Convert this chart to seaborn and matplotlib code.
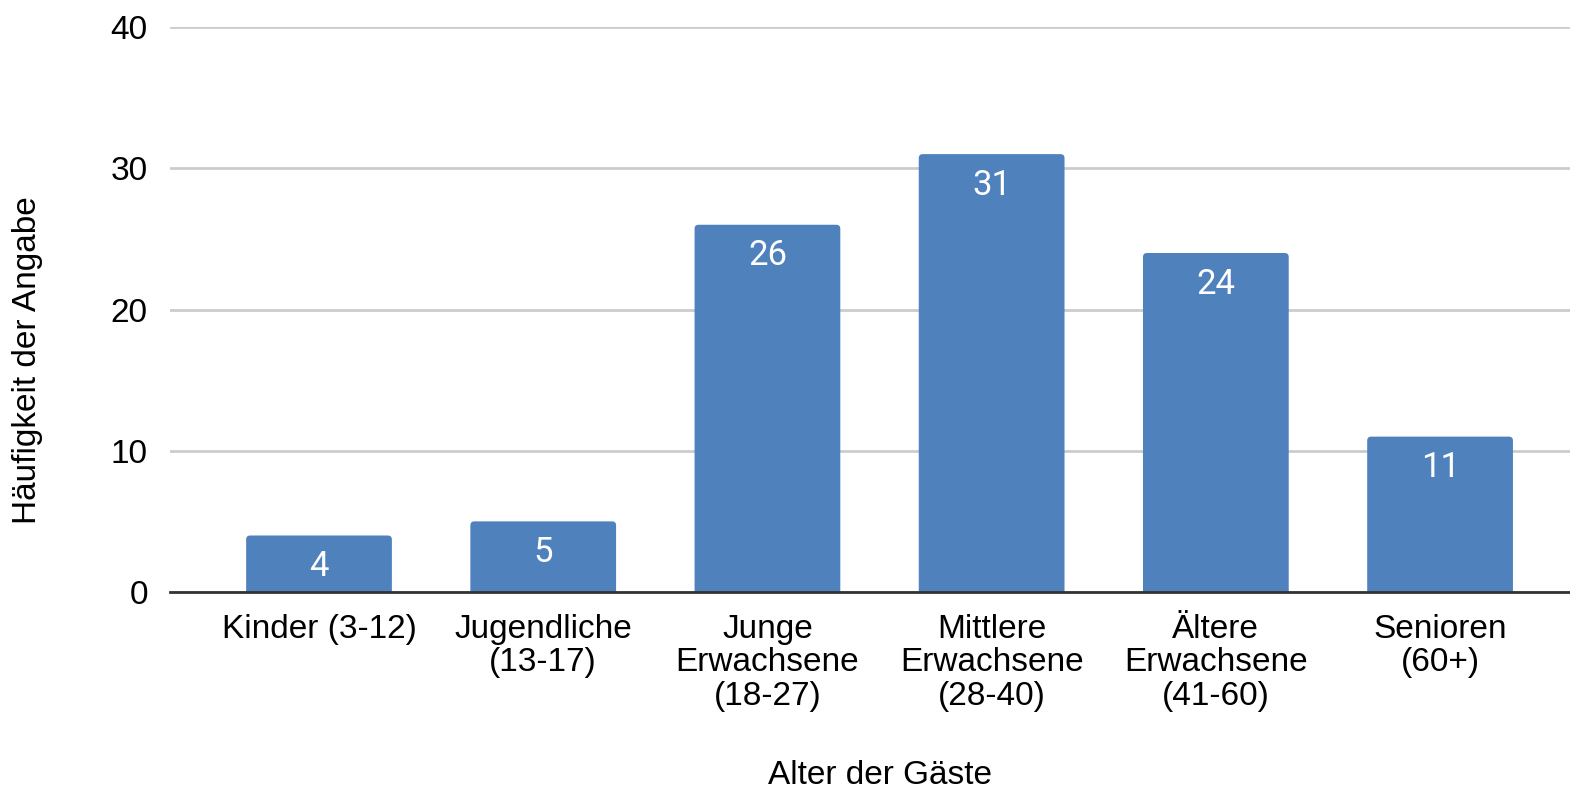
import matplotlib
matplotlib.use("Agg")
import matplotlib.pyplot as plt
from matplotlib.patches import FancyBboxPatch
import seaborn as sns
import pandas as pd

categories = [
    "Kinder (3-12)",
    "Jugendliche\n(13-17)",
    "Junge\nErwachsene\n(18-27)",
    "Mittlere\nErwachsene\n(28-40)",
    "Ältere\nErwachsene\n(41-60)",
    "Senioren\n(60+)",
]
counts = [4, 5, 26, 31, 24, 11]
y_ticks = [0, 10, 20, 30, 40]

bar_color = "#4f81bd"

sns.set_theme(style="white")
plt.rcParams["font.family"] = ["Liberation Sans", "DejaVu Sans"]
plt.rcParams["text.color"] = "black"
plt.rcParams["axes.labelcolor"] = "black"

df = pd.DataFrame({"cat": categories, "n": counts})

fig = plt.figure(figsize=(15.7, 7.91), dpi=100)
ax = fig.add_axes([170 / 1570, (791 - 592) / 791, 1 - 170 / 1570, (592 - 27) / 791])

sns.barplot(data=df, x="cat", y="n", color=bar_color, saturation=1,
            width=0.65, ax=ax, zorder=3)

ax.set_xlim(-0.6646, 5.5795)
ax.set_ylim(0, 40)

# swap plain rectangles for bars with softly rounded top corners
rx = 0.018
ry = 0.28
for p in list(ax.patches):
    x0, w, h = p.get_x(), p.get_width(), p.get_height()
    p.set_visible(False)
    fb = FancyBboxPatch((x0, -1), w, h + 1,
                        boxstyle=f"round,pad=0,rounding_size={rx}",
                        mutation_aspect=ry / rx,
                        facecolor=bar_color, edgecolor="none", zorder=3)
    ax.add_patch(fb)

for i, v in enumerate(counts):
    ax.text(i, v - 2.2, str(v), ha="center", va="center", color="white",
            fontsize=25, family=["Roboto", "DejaVu Sans"], zorder=4)

ax.set_yticks(y_ticks)
ax.yaxis.grid(True, color="#cccccc", linewidth=2, zorder=0)
ax.set_axisbelow(True)
for s in ["top", "right", "left"]:
    ax.spines[s].set_visible(False)
ax.spines["bottom"].set_color("#333333")
ax.spines["bottom"].set_linewidth(2)
ax.spines["bottom"].set_zorder(5)

ax.tick_params(axis="both", length=0, labelsize=24, colors="#000000")
ax.tick_params(axis="y", pad=16)
ax.tick_params(axis="x", pad=16)
for lbl in ax.get_xticklabels():
    lbl.set_linespacing(1.09)
    lbl.set_verticalalignment("top")

ax.set_xlabel("Alter der Gäste", fontsize=24, labelpad=0)
ax.set_ylabel("Häufigkeit der Angabe", fontsize=24, labelpad=0)
ax.xaxis.set_label_coords((880 - 170) / 1400, -(775 - 592) / 565, transform=ax.transAxes)
ax.xaxis.label.set_verticalalignment("center")
ax.yaxis.set_label_coords(-(170 - 28) / 1400, (592 - 360) / 565)
ax.yaxis.label.set_verticalalignment("center")

fig.savefig("out.png", dpi=100)
